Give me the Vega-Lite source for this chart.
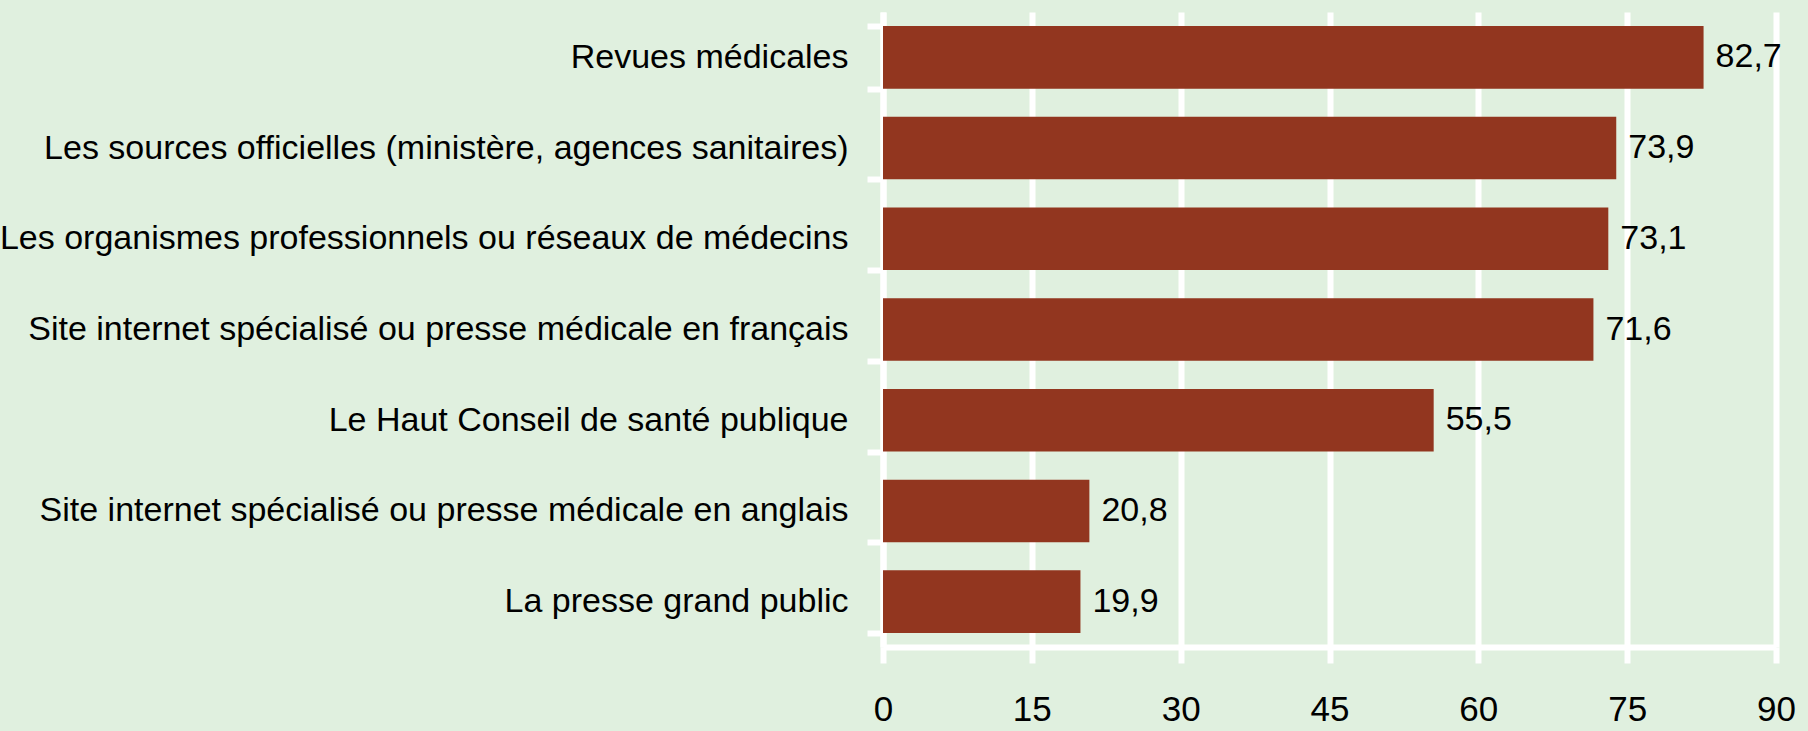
{
  "$schema": "https://vega.github.io/schema/vega-lite/v6.json",
  "width": 893,
  "height": 635,
  "autosize": {"type": "none"},
  "padding": {"left": 883, "top": 12, "right": 32, "bottom": 84},
  "background": "#E0F0DF",
  "config": {
    "locale": {"number": {"decimal": ",", "thousands": "\u00a0", "grouping": [3], "currency": ["", " €"]}},
    "view": {"stroke": null, "fill": "#E0F0DF"},
    "font": "Liberation Sans"
  },
  "data": {
    "values": [
      {"source": "Revues médicales", "value": 82.7},
      {"source": "Les sources officielles (ministère, agences sanitaires)", "value": 73.9},
      {"source": "Les organismes professionnels ou réseaux de médecins", "value": 73.1},
      {"source": "Site internet spécialisé ou presse médicale en français", "value": 71.6},
      {"source": "Le Haut Conseil de santé publique", "value": 55.5},
      {"source": "Site internet spécialisé ou presse médicale en anglais", "value": 20.8},
      {"source": "La presse grand public", "value": 19.9}
    ]
  },
  "encoding": {
    "y": {
      "field": "source",
      "type": "nominal",
      "sort": null,
      "scale": {"paddingInner": 0.31, "paddingOuter": 0.155},
      "axis": {
        "title": null,
        "domainColor": "white",
        "domainWidth": 6,
        "tickColor": "white",
        "tickWidth": 6,
        "tickSize": 16,
        "tickBand": "extent",
        "labelFont": "Liberation Sans",
        "labelFontSize": 34,
        "labelColor": "black",
        "labelPadding": 19,
        "labelLimit": 1000
      }
    },
    "x": {
      "field": "value",
      "type": "quantitative",
      "scale": {"domain": [0, 90], "nice": false},
      "axis": {
        "title": null,
        "values": [0, 15, 30, 45, 60, 75, 90],
        "grid": true,
        "gridColor": "white",
        "gridWidth": 6,
        "gridOpacity": 1,
        "domainColor": "white",
        "domainWidth": 6,
        "tickColor": "white",
        "tickWidth": 6,
        "tickSize": 16,
        "labelFont": "Liberation Sans",
        "labelFontSize": 35,
        "labelColor": "black",
        "labelPadding": 29,
        "labelFlush": false
      }
    }
  },
  "layer": [
    {"mark": {"type": "bar", "color": "#92361F"}},
    {
      "mark": {"type": "text", "align": "left", "baseline": "middle", "dx": 12, "fontSize": 34, "font": "Liberation Sans", "color": "black"},
      "encoding": {"text": {"field": "value", "type": "quantitative", "format": ".1f"}}
    }
  ]
}
